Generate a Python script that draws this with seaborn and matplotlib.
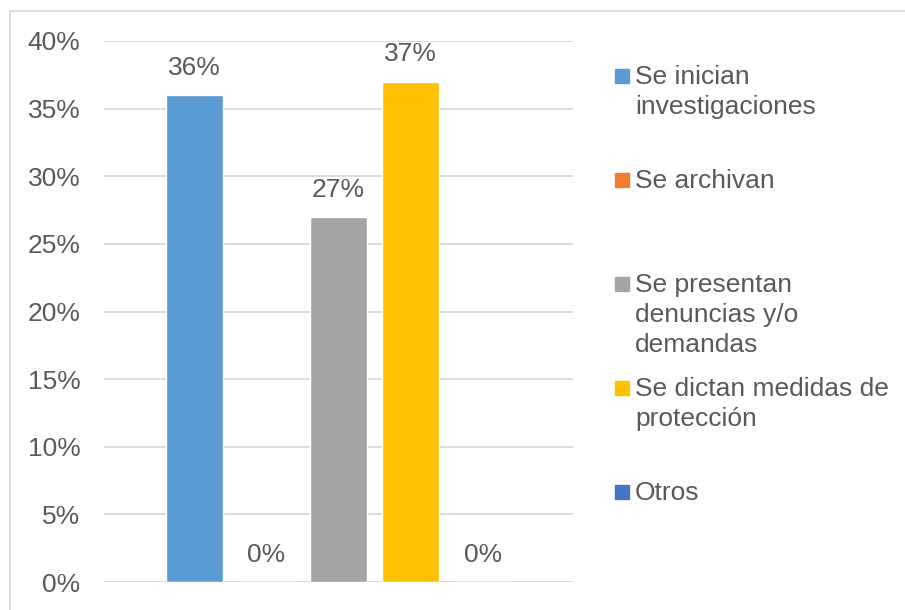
import pandas as pd
import matplotlib.pyplot as plt
import seaborn as sns
from matplotlib.patches import Rectangle

# data
categorias = ['Se inician investigaciones', 'Se archivan',
              'Se presentan denuncias y/o demandas',
              'Se dictan medidas de protección', 'Otros']
etiquetas_leyenda = ['Se inician\ninvestigaciones', 'Se archivan',
                     'Se presentan\ndenuncias y/o\ndemandas',
                     'Se dictan medidas de\nprotección', 'Otros']
valores = [0.36, 0.00, 0.27, 0.37, 0.00]
colores = ['#5B9BD5', '#ED7D31', '#A5A5A5', '#FFC000', '#4472C4']
yticks = [0, 0.05, 0.10, 0.15, 0.20, 0.25, 0.30, 0.35, 0.40]

sns.set_style('white')
plt.rcParams['font.family'] = ['Liberation Sans', 'DejaVu Sans']
gris = '#595959'
fs = 19

W, H = 905, 610
fig = plt.figure(figsize=(W / 100, H / 100), dpi=100)
ax = fig.add_axes([104 / W, 1 - 582 / H, (573 - 104) / W, (582 - 41) / H])

df = pd.DataFrame({'cat': categorias, 'val': valores})
sns.barplot(data=df, x='cat', y='val', hue='cat', palette=colores,
            width=0.79, legend=False, ax=ax, saturation=1)

for c in ax.containers:
    ax.bar_label(c, labels=[f'{v * 100:.0f}%' for v in c.datavalues],
                 padding=11, fontsize=fs, color=gris)

ax.set_xlim(-1.25, 5.25)
ax.set_ylim(0, 0.40)
ax.set_yticks(yticks)
ax.set_yticklabels([f'{t * 100:.0f}%' for t in yticks])
ax.tick_params(axis='y', length=0, pad=17, labelsize=fs, labelcolor=gris)
ax.set_xticks([])
ax.set_xlabel('')
ax.set_ylabel('')
ax.grid(axis='y', color='#D9D9D9', linewidth=1.3)
ax.set_axisbelow(True)
for s in ax.spines.values():
    s.set_visible(False)

# outer chart border
fig.patches.append(Rectangle((10 / W, -0.1), 1.2, 1 - 11 / H + 0.1,
                             transform=fig.transFigure, fill=False,
                             edgecolor='#D9D9D9', linewidth=1.3))

# legend on the right, entries evenly spaced
for i, (lab, col) in enumerate(zip(etiquetas_leyenda, colores)):
    yc = 76 + i * 104
    fig.patches.append(Rectangle((615 / W, 1 - (yc + 7) / H), 14 / W, 14 / H,
                                 transform=fig.transFigure, color=col))
    fig.text(635 / W, 1 - (yc - 11) / H, lab, fontsize=fs, color=gris,
             va='top', ha='left', linespacing=1.32)

fig.savefig('out.png', dpi=100)
